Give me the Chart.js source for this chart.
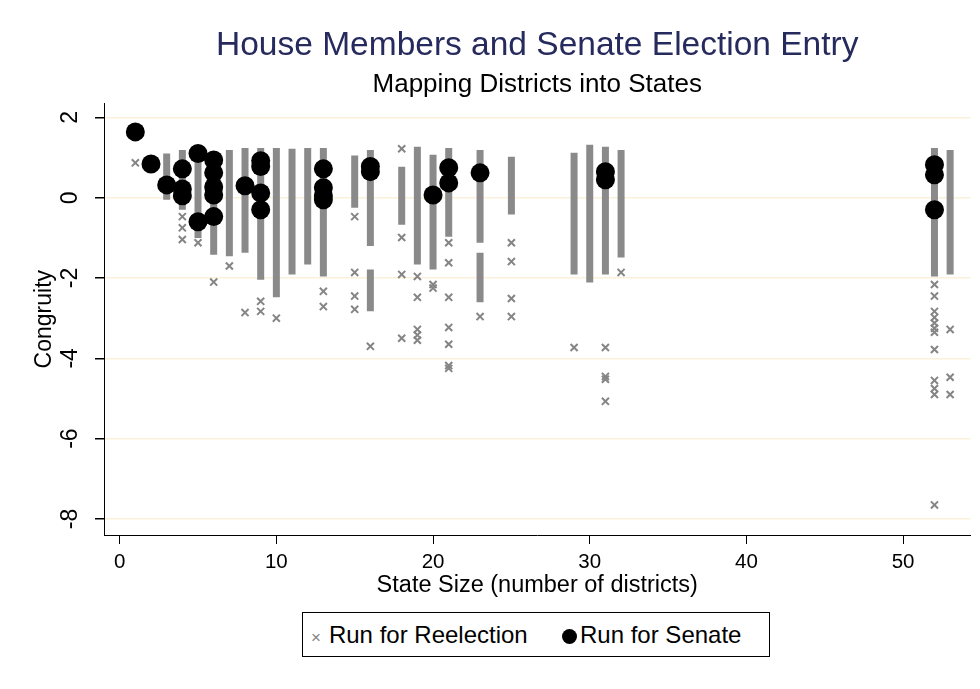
<!DOCTYPE html>
<html>
<head>
<meta charset="utf-8">
<script src="https://cdn.jsdelivr.net/npm/chart.js@4"></script>
<style>
  body { margin: 0; background: #fff; }
  #wrap { position: relative; width: 980px; height: 689px; }
  #legend {
    position: absolute; left: 302px; top: 612px; width: 468px; height: 45px;
    box-sizing: border-box; border: 1px solid #000; background: #fff;
    font-family: "Liberation Sans", Arial, sans-serif; font-size: 24px; color: #000;
  }
  #legend .item { position: absolute; top: 0; height: 43px; line-height: 43px; white-space: nowrap; }
  #legend .cross { color: #858585; font-size: 17px; margin-right: 8px; }
  #legend .dot { display: inline-block; width: 15px; height: 15px; border-radius: 50%; background: #000; margin-right: 3px; vertical-align: -1px; }
</style>
</head>
<body>
<div id="wrap">
  <canvas id="chart" width="980" height="689"></canvas>
  <div id="legend">
    <span class="item" style="left:8px"><span class="cross">×</span>Run for Reelection</span>
    <span class="item" style="left:259px"><span class="dot"></span>Run for Senate</span>
  </div>
</div>
<script>
/* ================= DATA ================= */
// Senate entrants: state size and congruity
const senateX = [1, 2, 3, 4, 4, 4, 5, 5, 6, 6, 6, 6, 6, 8, 9, 9, 9, 9,
  13, 13, 13, 13, 16, 16, 20, 21, 21, 23, 31, 31, 52, 52, 52];
const senateY = [1.64, 0.84, 0.32, 0.72, 0.22, 0.05, 1.1, -0.6, 0.94, 0.62, 0.27, 0.07, -0.47, 0.3, 0.92, 0.78, 0.12, -0.3,
  0.72, 0.25, 0.05, -0.05, 0.78, 0.65, 0.07, 0.75, 0.37, 0.62, 0.65, 0.45, 0.82, 0.57, -0.3];

// Reelection members: dense runs of markers (state size, top, bottom)
const bandX  = [3, 4, 5, 6, 7, 8, 9, 10, 11, 12, 13, 15, 16, 16, 18, 19, 20, 21, 23, 23, 25, 29, 30, 31, 32, 52, 53];
const bandHi = [1.1, 1.19, 1.24, 1.02, 1.19, 1.24, 1.24, 1.24, 1.22, 1.24, 1.24, 1.05, 1.19, -1.79, 0.77, 1.27, 1.07, 1.24, 1.19, -1.37, 1.02, 1.12, 1.32, 1.27, 1.19, 1.24, 1.19];
const bandLo = [-0.05, -0.3, -1.0, -1.42, -1.46, -1.37, -2.04, -2.48, -1.91, -1.66, -1.96, -0.25, -1.2, -2.83, -0.67, -1.66, -1.79, -0.97, -1.12, -2.6, -0.42, -1.91, -2.11, -1.91, -1.49, -1.96, -1.91];

// Reelection members: single markers outside the dense runs
const reelectX = [1, 2, 4, 4, 4, 5, 6, 7, 8, 9, 9, 10, 13, 13,
  15, 15, 15, 15, 16, 18, 18, 18, 18, 19, 19, 19, 19, 19, 20, 20,
  21, 21, 21, 21, 21, 21, 21, 23, 25, 25, 25, 25, 29, 31, 31, 31, 31, 32,
  52, 52, 52, 52, 52, 52, 52, 52, 52, 52, 52, 52, 53, 53, 53];
const reelectY = [0.87, 0.84, -0.47, -0.75, -1.04, -1.12, -2.1, -1.7, -2.86, -2.58, -2.83, -3.0, -2.33, -2.71,
  -0.47, -1.86, -2.45, -2.78, -3.7, 1.22, -0.99, -1.91, -3.5, -1.96, -2.48, -3.28, -3.42, -3.55, -2.16, -2.25,
  -1.12, -1.62, -2.48, -3.23, -3.65, -4.18, -4.25, -2.96, -1.12, -1.59, -2.51, -2.96, -3.73, -3.73, -4.45, -4.52, -5.07, -1.86,
  -2.16, -2.45, -2.83, -2.98, -3.12, -3.25, -3.35, -3.78, -4.55, -4.75, -4.9, -7.65, -3.28, -4.47, -4.9];

const xTicks = [0, 10, 20, 30, 40, 50];
const yTicks = [2, 0, -2, -4, -6, -8];

/* ================= BUILD DATASETS ================= */
const senatePts = senateX.map((x, i) => ({ x: x, y: senateY[i] }));
const reelectPts = reelectX.map((x, i) => ({ x: x, y: reelectY[i] }));
const bandPts = [];
bandX.forEach((x, i) => {
  bandPts.push({ x: x, y: bandHi[i] }, { x: x, y: bandLo[i] }, { x: x, y: null });
});

const FONT = '"Liberation Sans", Arial, sans-serif';

/* ================= Y AXIS LABELS (rotated, Stata style) ================= */
const yAxisText = {
  id: 'yAxisText',
  afterDraw(chart) {
    const ctx = chart.ctx;
    const y = chart.scales.y;
    ctx.save();
    ctx.fillStyle = '#000';
    ctx.textAlign = 'center';
    ctx.textBaseline = 'middle';
    ctx.font = '23px ' + FONT;
    yTicks.forEach(v => {
      ctx.save();
      ctx.translate(71, y.getPixelForValue(v));
      ctx.rotate(-Math.PI / 2);
      ctx.fillText(String(v), 0, 0);
      ctx.restore();
    });
    ctx.translate(45, (chart.chartArea.top + chart.chartArea.bottom) / 2);
    ctx.rotate(-Math.PI / 2);
    ctx.fillText('Congruity', 0, 0);
    ctx.restore();
  }
};

new Chart(document.getElementById('chart'), {
  type: 'scatter',
  data: {
    datasets: [
      {
        label: 'Run for Senate',
        data: senatePts,
        order: 0,
        pointStyle: 'circle',
        pointRadius: 9.5,
        backgroundColor: '#000',
        borderColor: '#000',
        borderWidth: 0
      },
      {
        label: 'Run for Reelection',
        data: reelectPts,
        order: 1,
        pointStyle: 'crossRot',
        pointRadius: 5,
        borderWidth: 2,
        borderColor: '#858585',
        backgroundColor: '#858585'
      },
      {
        label: 'reelection runs',
        data: bandPts,
        order: 2,
        showLine: true,
        spanGaps: false,
        pointRadius: 0,
        borderWidth: 7,
        borderColor: '#8a8a8a',
        borderCapStyle: 'butt'
      }
    ]
  },
  options: {
    responsive: false,
    animation: false,
    layout: { padding: { left: 0, right: 8, top: 0, bottom: 89 } },
    plugins: {
      legend: { display: false },
      tooltip: { enabled: false },
      title: {
        display: true,
        text: 'House Members and Senate Election Entry',
        fullSize: false,
        color: '#262a5c',
        font: { family: FONT, size: 33.5, weight: 'normal' },
        padding: { top: 26, bottom: 0 }
      },
      subtitle: {
        display: true,
        text: 'Mapping Districts into States',
        fullSize: false,
        color: '#000',
        font: { family: FONT, size: 26, weight: 'normal' },
        padding: { top: 3, bottom: 3 }
      }
    },
    scales: {
      x: {
        type: 'linear',
        min: -1,
        max: 54.3,
        afterBuildTicks: s => { s.ticks = xTicks.map(v => ({ value: v })); },
        afterFit: s => { s.height = 65; },
        border: { display: true, color: '#000', width: 1 },
        grid: { drawOnChartArea: false, tickLength: 9, tickColor: '#000', color: '#000' },
        ticks: { color: '#000', font: { family: FONT, size: 20.5 }, padding: 6, maxRotation: 0 },
        title: {
          display: true,
          text: 'State Size (number of districts)',
          color: '#000',
          font: { family: FONT, size: 23.5 },
          padding: { top: 0, bottom: 0 }
        }
      },
      y: {
        type: 'linear',
        min: -8.4,
        max: 2.35,
        afterBuildTicks: s => { s.ticks = yTicks.map(v => ({ value: v })); },
        afterFit: s => { s.width = 104; },
        border: { display: true, color: '#000', width: 1 },
        grid: { color: '#fbf1da', lineWidth: 1.5, tickLength: 9, tickColor: '#000' },
        ticks: { display: false }
      }
    }
  },
  plugins: [yAxisText]
});
</script>
</body>
</html>
